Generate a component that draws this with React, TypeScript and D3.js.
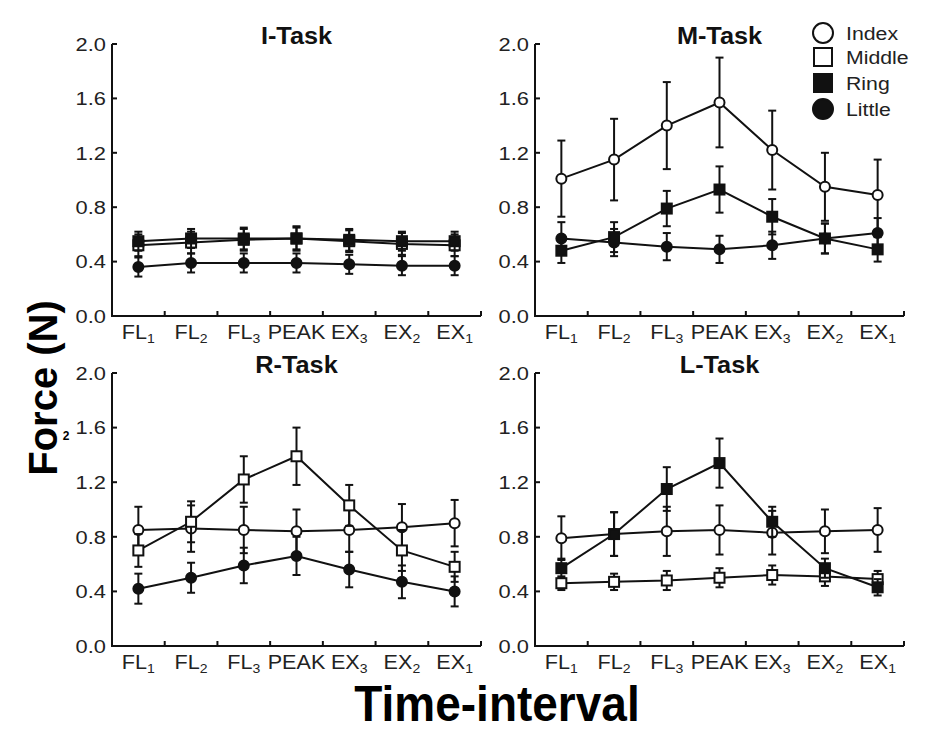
import React from "react";
import * as d3 from "d3";

const categories = ["FL1", "FL2", "FL3", "PEAK", "EX3", "EX2", "EX1"];
const tickBase = ["FL", "FL", "FL", "PEAK", "EX", "EX", "EX"];
const tickSub = ["1", "2", "3", "", "3", "2", "1"];
const yTicks = [0, 0.4, 0.8, 1.2, 1.6, 2.0];

const fingers = ["Index", "Middle", "Ring", "Little"];

// I-Task
const iMiddle = [0.52, 0.54, 0.56, 0.57, 0.55, 0.53, 0.52];
const iMiddleSd = [0.08, 0.08, 0.08, 0.08, 0.08, 0.08, 0.08];
const iRing = [0.55, 0.57, 0.57, 0.57, 0.56, 0.55, 0.55];
const iRingSd = [0.07, 0.07, 0.08, 0.09, 0.08, 0.07, 0.07];
const iLittle = [0.36, 0.39, 0.39, 0.39, 0.38, 0.37, 0.37];
const iLittleSd = [0.07, 0.07, 0.07, 0.07, 0.07, 0.07, 0.07];

// M-Task
const mIndex = [1.01, 1.15, 1.4, 1.57, 1.22, 0.95, 0.89];
const mIndexSd = [0.28, 0.3, 0.32, 0.33, 0.29, 0.25, 0.26];
const mRing = [0.48, 0.58, 0.79, 0.93, 0.73, 0.57, 0.49];
const mRingSd = [0.09, 0.11, 0.13, 0.17, 0.13, 0.11, 0.09];
const mLittle = [0.57, 0.54, 0.51, 0.49, 0.52, 0.57, 0.61];
const mLittleSd = [0.12, 0.1, 0.1, 0.1, 0.1, 0.11, 0.11];

// R-Task
const rIndex = [0.85, 0.86, 0.85, 0.84, 0.85, 0.87, 0.9];
const rIndexSd = [0.17, 0.17, 0.17, 0.16, 0.16, 0.17, 0.17];
const rMiddle = [0.7, 0.91, 1.22, 1.39, 1.03, 0.7, 0.58];
const rMiddleSd = [0.12, 0.15, 0.17, 0.21, 0.15, 0.15, 0.11];
const rLittle = [0.42, 0.5, 0.59, 0.66, 0.56, 0.47, 0.4];
const rLittleSd = [0.11, 0.11, 0.13, 0.14, 0.13, 0.12, 0.11];

// L-Task
const lIndex = [0.79, 0.82, 0.84, 0.85, 0.83, 0.84, 0.85];
const lIndexSd = [0.16, 0.16, 0.18, 0.18, 0.16, 0.16, 0.16];
const lMiddle = [0.46, 0.47, 0.48, 0.5, 0.52, 0.51, 0.49];
const lMiddleSd = [0.05, 0.06, 0.07, 0.07, 0.07, 0.07, 0.06];
const lRing = [0.57, 0.82, 1.15, 1.34, 0.91, 0.57, 0.43];
const lRingSd = [0.07, 0.16, 0.16, 0.18, 0.11, 0.07, 0.06];

type Series = { finger: string; values: number[]; sd: number[] };

const panels = [
  {
    title: "I-Task", x0: 112, x1: 481, yTop: 44, yBot: 316,
    series: [
      { finger: "Little", values: iLittle, sd: iLittleSd },
      { finger: "Middle", values: iMiddle, sd: iMiddleSd },
      { finger: "Ring", values: iRing, sd: iRingSd },
    ] as Series[],
  },
  {
    title: "M-Task", x0: 535, x1: 904, yTop: 44, yBot: 316,
    series: [
      { finger: "Little", values: mLittle, sd: mLittleSd },
      { finger: "Ring", values: mRing, sd: mRingSd },
      { finger: "Index", values: mIndex, sd: mIndexSd },
    ] as Series[],
  },
  {
    title: "R-Task", x0: 112, x1: 481, yTop: 373, yBot: 646,
    series: [
      { finger: "Little", values: rLittle, sd: rLittleSd },
      { finger: "Index", values: rIndex, sd: rIndexSd },
      { finger: "Middle", values: rMiddle, sd: rMiddleSd },
    ] as Series[],
  },
  {
    title: "L-Task", x0: 535, x1: 904, yTop: 373, yBot: 646,
    series: [
      { finger: "Middle", values: lMiddle, sd: lMiddleSd },
      { finger: "Index", values: lIndex, sd: lIndexSd },
      { finger: "Ring", values: lRing, sd: lRingSd },
    ] as Series[],
  },
];

const FONT = "'Liberation Sans', Arial, sans-serif";
const INK = "#111";

function SText(props: {
  x: number; y: number; sx?: number; size: number; anchor?: string; bold?: boolean; dy?: string; fill?: string;
  children: React.ReactNode;
}) {
  const { x, y, sx = 1, size, anchor = "start", bold, dy, fill = "#222", children } = props;
  return (
    <text
      transform={`translate(${x},${y}) scale(${sx},1)`}
      dy={dy}
      textAnchor={anchor}
      fontFamily={FONT}
      fontWeight={bold ? "bold" : "normal"}
      fontSize={size}
      fill={fill}
    >
      {children}
    </text>
  );
}

function Marker({ finger, cx, cy, size }: { finger: string; cx: number; cy: number; size: number }) {
  const filled = finger === "Ring" || finger === "Little";
  const fill = filled ? INK : "#fff";
  if (finger === "Index" || finger === "Little") {
    return <circle cx={cx} cy={cy} r={size / 2} fill={fill} stroke={INK} strokeWidth={2} />;
  }
  return (
    <rect x={cx - size / 2} y={cy - size / 2} width={size} height={size} fill={fill} stroke={INK} strokeWidth={2} />
  );
}

function Panel({ p }: { p: (typeof panels)[number] }) {
  const x = d3.scaleBand<string>().domain(categories).range([p.x0, p.x1]).padding(0);
  const y = d3.scaleLinear().domain([0, 2]).range([p.yBot, p.yTop]);
  const cx = (c: string) => (x(c) as number) + x.bandwidth() / 2;
  const line = d3
    .line<number>()
    .x((_, i) => cx(categories[i]))
    .y((d) => y(d));
  const cap = 4;
  return (
    <g>
      <SText x={(p.x0 + p.x1) / 2} y={p.yTop} sx={1.1} anchor="middle" bold size={23} fill={INK}>
        {p.title}
      </SText>
      <line x1={p.x0} x2={p.x0} y1={p.yTop} y2={p.yBot} stroke={INK} strokeWidth={2} />
      <line x1={p.x0 - 1} x2={p.x1} y1={p.yBot} y2={p.yBot} stroke={INK} strokeWidth={2} />
      {yTicks.map((t) => (
        <g key={t}>
          <line x1={p.x0} x2={p.x0 + 5} y1={y(t)} y2={y(t)} stroke={INK} strokeWidth={2} />
          <SText x={p.x0 - 6} y={y(t)} sx={1.15} dy="0.36em" anchor="end" size={19}>
            {t.toFixed(1)}
          </SText>
        </g>
      ))}
      {categories.map((c, i) => (
        <g key={c}>
          <line
            x1={(x(c) as number) + x.bandwidth()}
            x2={(x(c) as number) + x.bandwidth()}
            y1={p.yBot}
            y2={p.yBot - 5}
            stroke={INK}
            strokeWidth={2}
          />
          <SText x={cx(c)} y={p.yBot + 23} sx={1.08} anchor="middle" size={20}>
            {tickBase[i]}
            {tickSub[i] ? (
              <tspan fontSize={13} dy={4}>
                {tickSub[i]}
              </tspan>
            ) : null}
          </SText>
        </g>
      ))}
      {p.series.map((s) => (
        <g key={s.finger}>
          {s.values.map((v, i) => {
            const xx = cx(categories[i]);
            const lo = y(v - s.sd[i]);
            const hi = y(v + s.sd[i]);
            return (
              <g key={i} stroke={INK} strokeWidth={2}>
                <line x1={xx} x2={xx} y1={lo} y2={hi} />
                <line x1={xx - cap} x2={xx + cap} y1={lo} y2={lo} />
                <line x1={xx - cap} x2={xx + cap} y1={hi} y2={hi} />
              </g>
            );
          })}
          <path d={line(s.values) || ""} fill="none" stroke={INK} strokeWidth={2} />
          {s.values.map((v, i) => (
            <Marker key={i} finger={s.finger} cx={cx(categories[i])} cy={y(v)} size={10} />
          ))}
        </g>
      ))}
    </g>
  );
}

export default function App() {
  const legendY = [33, 57, 83, 109];
  return (
    <svg width={930} height={732} style={{ position: "absolute", left: 0, top: 0, background: "#fff" }}>
      <rect width={930} height={732} fill="#fff" />
      {panels.map((p) => (
        <Panel key={p.title} p={p} />
      ))}
      {fingers.map((f, i) => (
        <g key={f}>
          <Marker finger={f} cx={823} cy={legendY[i]} size={f === "Index" || f === "Little" ? 20 : 18} />
          <SText x={846} y={legendY[i]} sx={1.15} dy="0.36em" size={18.5}>
            {f}
          </SText>
        </g>
      ))}
      <text
        transform="translate(57,388) rotate(-90)"
        textAnchor="middle"
        fontFamily={FONT}
        fontWeight="bold"
        fontSize={40}
        fill="#000"
      >
        Force (N)
      </text>
      <text x={66} y={440} textAnchor="middle" fontFamily={FONT} fontWeight="bold" fontSize={12} fill="#000">
        2
      </text>
      <SText x={497} y={721} sx={0.92} anchor="middle" bold size={50} fill="#000">
        Time-interval
      </SText>
    </svg>
  );
}
